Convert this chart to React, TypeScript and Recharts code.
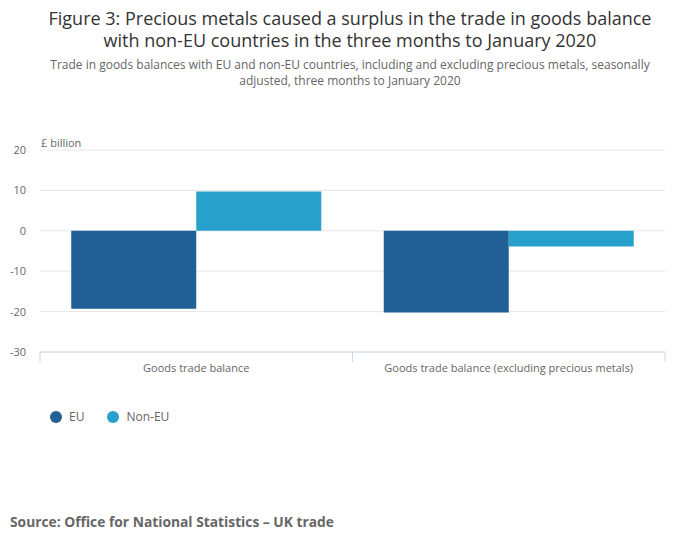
import React from 'react';
import { BarChart, Bar, XAxis, YAxis, CartesianGrid } from 'recharts';

// Trade in goods balances, £ billion, three months to January 2020
const categories = ['Goods trade balance', 'Goods trade balance (excluding precious metals)'];
const euValues = [-19.3, -20.2];
const nonEuValues = [9.7, -3.9];
const yTicks = [-30, -20, -10, 0, 10, 20];

const seriesNames = ['EU', 'Non-EU'];
const colors = ['#206095', '#27a0cc'];

const font = '"Open Sans", "Noto Sans", sans-serif';

const chartData = categories.map((name, i) => ({
  name,
  eu: euValues[i],
  nonEu: nonEuValues[i],
}));

const WIDTH = 700;
const PLOT_LEFT = 40;
const PLOT_RIGHT = 35;
const bandHalf = (WIDTH - PLOT_LEFT - PLOT_RIGHT) / categories.length / 2;

function CategoryTick(props: any) {
  const { x, y, payload } = props;
  return (
    <g>
      <line x1={x - bandHalf} x2={x - bandHalf} y1={y} y2={y + 10} stroke="#ccd6eb" />
      <line x1={x + bandHalf} x2={x + bandHalf} y1={y} y2={y + 10} stroke="#ccd6eb" />
      <text x={x} y={y + 20} textAnchor="middle" fill="#666666" fontSize={11} fontFamily={font}>
        {payload.value}
      </text>
    </g>
  );
}

export default function App() {
  return (
    <div style={{ position: 'absolute', left: 0, top: 0, width: WIDTH, height: 549, background: '#fff', fontFamily: font }}>
      <div style={{ position: 'absolute', top: 7, left: 0, width: WIDTH, textAlign: 'center', fontSize: 18, lineHeight: '22px', color: '#333333' }}>
        Figure 3: Precious metals caused a surplus in the trade in goods balance
        <br />
        with non-EU countries in the three months to January 2020
      </div>
      <div style={{ position: 'absolute', top: 57, left: 0, width: WIDTH, textAlign: 'center', fontSize: 12, lineHeight: '16px', color: '#666666' }}>
        Trade in goods balances with EU and non-EU countries, including and excluding precious metals, seasonally
        <br />
        adjusted, three months to January 2020
      </div>
      <div style={{ position: 'absolute', top: 135, left: 41, fontSize: 11, color: '#666666' }}>£ billion</div>

      <div style={{ position: 'absolute', top: 0, left: 0 }}>
        <BarChart
          width={WIDTH}
          height={400}
          data={chartData}
          margin={{ top: 150, right: PLOT_RIGHT, bottom: 0, left: 0 }}
          barGap={0}
          barCategoryGap="10%"
        >
          <CartesianGrid vertical={false} stroke="#e6e6e6" />
          <XAxis
            dataKey="name"
            height={48}
            axisLine={{ stroke: '#ccd6eb' }}
            tickLine={false}
            tickSize={0}
            tickMargin={0}
            tick={<CategoryTick />}
            interval={0}
          />
          <YAxis
            width={PLOT_LEFT}
            domain={[-30, 20]}
            ticks={yTicks}
            axisLine={false}
            tickLine={false}
            tickSize={6}
            tickMargin={8}
            tick={{ fill: '#666666', fontSize: 11, fontFamily: font }}
          />
          <Bar dataKey="eu" name={seriesNames[0]} fill={colors[0]} isAnimationActive={false} />
          <Bar dataKey="nonEu" name={seriesNames[1]} fill={colors[1]} isAnimationActive={false} />
        </BarChart>
      </div>

      <div style={{ position: 'absolute', top: 408, left: 50, display: 'flex', alignItems: 'center', fontSize: 12, color: '#666666' }}>
        {seriesNames.map((name, i) => (
          <div key={name} style={{ display: 'flex', alignItems: 'center', marginRight: 23 }}>
            <span style={{ width: 12, height: 12, borderRadius: 6, background: colors[i], marginRight: 7, display: 'inline-block' }} />
            <span>{name}</span>
          </div>
        ))}
      </div>

      <div style={{ position: 'absolute', top: 512, left: 10, fontSize: 13.8, fontWeight: 'bold', color: '#666666' }}>
        Source: Office for National Statistics – UK trade
      </div>
    </div>
  );
}
